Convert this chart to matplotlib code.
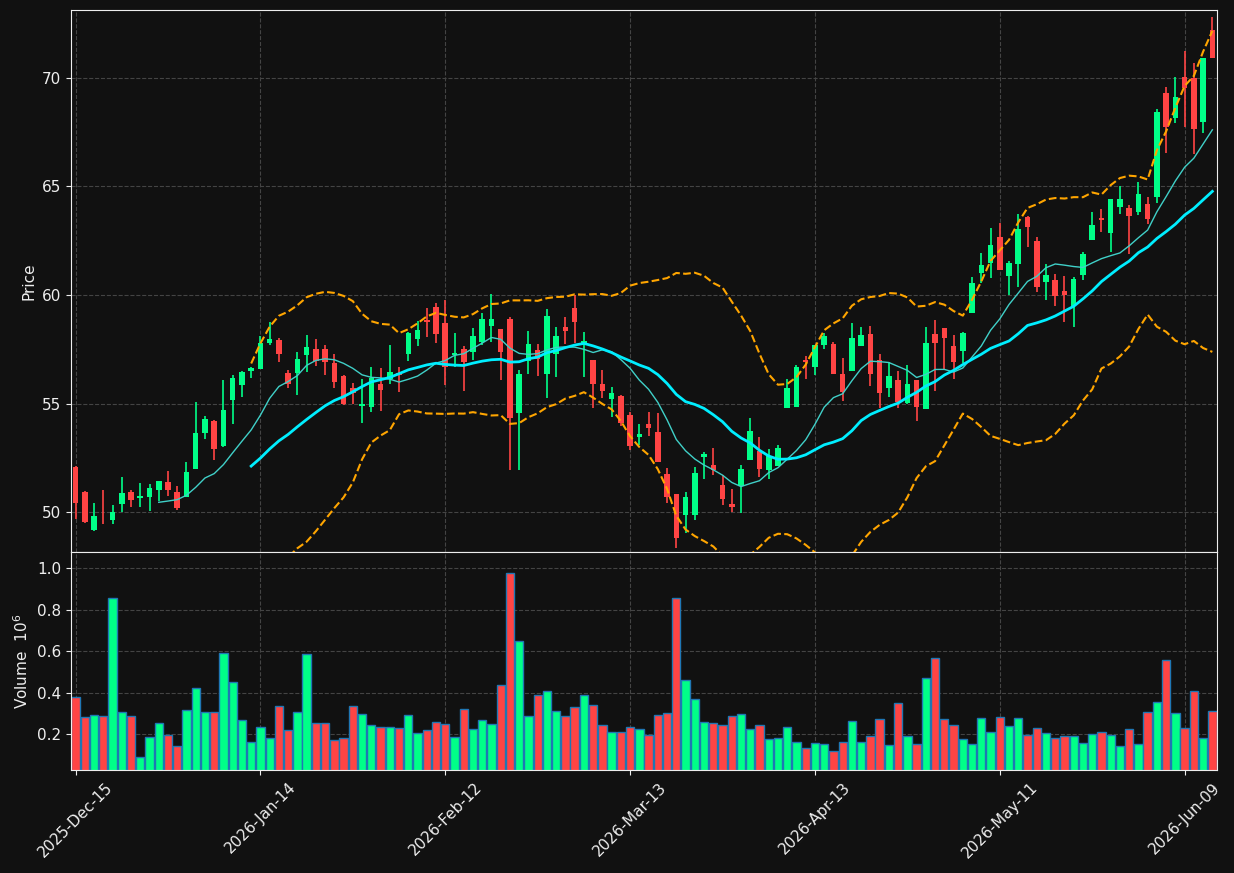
import numpy as np
import pandas as pd
from matplotlib import pyplot as plt

# OHLC (one candle per trading day)
opens = [52.06, 50.92, 49.18, 50.02, 49.65, 50.38, 50.92, 50.66, 50.69, 51.01,
         51.38, 50.92, 50.71, 52.00, 53.64, 54.18, 53.06, 55.16, 55.85, 56.51,
         56.59, 57.80, 57.93, 56.41, 56.42, 57.25, 57.51, 57.51, 56.87, 56.27,
         55.73, 54.90, 54.82, 55.90, 56.13, 56.39, 57.30, 57.97, 58.85, 59.43,
         58.70, 57.24, 57.50, 57.39, 57.85, 58.59, 58.42, 58.88, 54.58, 56.97,
         57.47, 56.36, 57.28, 58.53, 59.40, 57.70, 57.00, 55.90, 55.21, 55.35,
         54.47, 53.47, 54.06, 53.69, 51.75, 50.83, 49.86, 49.86, 52.55, 52.17,
         51.24, 50.37, 51.20, 52.40, 52.81, 51.94, 52.12, 54.81, 54.86, 57.00,
         56.70, 57.70, 57.74, 56.36, 56.50, 57.65, 58.20, 57.00, 55.73, 56.08,
         55.01, 56.08, 54.76, 58.20, 58.47, 57.65, 57.43, 59.18, 61.00, 61.49,
         62.69, 60.88, 61.43, 63.61, 62.50, 60.61, 60.69, 60.20, 59.49, 60.92,
         62.53, 63.54, 62.85, 64.04, 64.00, 63.81, 64.19, 64.53, 69.29, 68.17,
         70.03, 69.99, 67.99, 72.21]
highs = [52.10, 50.95, 50.40, 51.01, 50.31, 51.63, 51.01, 51.32, 51.28, 51.45,
         51.89, 51.20, 52.29, 55.08, 54.42, 54.25, 56.08, 56.30, 56.50, 56.70,
         58.09, 58.74, 58.00, 56.54, 57.39, 58.16, 57.96, 57.70, 57.28, 56.30,
         55.93, 56.12, 56.67, 56.62, 57.68, 56.70, 58.31, 58.82, 59.41, 59.64,
         59.77, 58.24, 57.65, 58.47, 59.16, 60.03, 58.45, 59.00, 56.54, 58.34,
         57.74, 59.34, 58.51, 58.97, 60.00, 58.29, 57.02, 56.54, 55.75, 55.38,
         54.62, 54.04, 54.62, 54.58, 52.01, 50.85, 50.94, 52.09, 52.78, 52.94,
         51.71, 51.05, 52.17, 54.32, 53.47, 52.89, 53.09, 56.12, 56.77, 57.19,
         57.70, 58.24, 57.85, 57.08, 58.72, 58.51, 58.57, 57.28, 56.90, 56.50,
         56.77, 56.10, 58.54, 58.85, 58.50, 58.16, 58.31, 60.82, 61.92, 63.07,
         63.30, 61.58, 63.73, 63.63, 62.66, 61.41, 60.97, 60.88, 60.82, 62.00,
         63.84, 63.95, 64.41, 65.00, 64.15, 65.22, 64.53, 68.56, 69.60, 70.03,
         71.26, 70.71, 70.94, 72.82]
lows = [49.66, 49.48, 49.15, 49.43, 49.43, 50.01, 50.22, 50.25, 50.06, 50.51,
        50.75, 50.09, 50.70, 52.00, 53.35, 52.38, 53.00, 54.04, 55.31, 56.16,
        56.59, 57.70, 56.90, 55.73, 55.39, 56.44, 56.74, 56.31, 55.70, 54.95,
        54.98, 54.09, 54.59, 54.65, 55.88, 55.52, 56.95, 57.67, 58.08, 57.77,
        55.85, 56.70, 55.58, 57.00, 57.70, 57.82, 56.08, 51.95, 51.94, 56.35,
        56.28, 55.27, 56.24, 57.74, 57.77, 56.21, 54.78, 55.24, 54.36, 53.96,
        52.86, 53.09, 53.50, 52.30, 50.40, 48.33, 49.02, 49.63, 51.51, 51.71,
        50.32, 50.01, 49.94, 52.38, 51.63, 51.51, 52.10, 54.80, 54.85, 56.12,
        56.31, 57.50, 56.36, 55.13, 56.50, 57.65, 55.82, 54.78, 55.31, 54.78,
        55.00, 54.19, 54.75, 55.56, 56.54, 56.12, 56.85, 59.17, 60.57, 60.77,
        61.15, 60.00, 60.38, 62.23, 60.16, 59.79, 59.49, 58.77, 58.51, 60.69,
        62.52, 62.92, 62.00, 63.73, 61.89, 63.69, 63.27, 64.23, 66.56, 67.91,
        67.76, 66.50, 67.45, 70.94]
closes = [50.43, 49.55, 49.82, 49.98, 50.00, 50.88, 50.55, 50.74, 51.12, 51.43,
          51.01, 50.20, 51.84, 53.64, 54.29, 52.90, 54.70, 56.18, 56.45, 56.64,
          57.80, 57.97, 57.30, 55.91, 57.05, 57.60, 56.97, 56.93, 56.00, 54.98,
          55.50, 54.98, 56.16, 55.64, 56.44, 56.31, 58.24, 58.39, 58.77, 58.20,
          56.70, 57.34, 56.93, 58.11, 58.88, 58.88, 57.39, 54.32, 56.36, 57.74,
          57.05, 59.03, 58.11, 58.34, 58.77, 57.88, 55.91, 55.56, 55.47, 54.12,
          53.06, 53.58, 53.88, 52.32, 50.71, 48.82, 50.71, 51.78, 52.67, 51.94,
          50.60, 50.22, 51.97, 53.73, 52.00, 52.58, 52.95, 55.70, 56.67, 56.90,
          57.70, 58.13, 56.36, 55.52, 58.00, 58.16, 56.36, 55.50, 56.27, 55.09,
          55.90, 54.85, 57.77, 57.80, 58.03, 56.93, 58.24, 60.54, 61.38, 62.30,
          61.15, 61.49, 63.04, 63.15, 60.38, 60.92, 59.95, 60.00, 60.74, 61.89,
          63.23, 63.46, 64.41, 64.41, 63.65, 64.65, 63.50, 68.42, 67.73, 69.11,
          69.53, 67.64, 70.94, 70.94]
# volume in millions
volumes = [0.377, 0.280, 0.290, 0.285, 0.855, 0.305, 0.285, 0.087, 0.184, 0.251,
           0.194, 0.140, 0.314, 0.420, 0.305, 0.305, 0.590, 0.449, 0.266, 0.160,
           0.232, 0.179, 0.334, 0.218, 0.305, 0.585, 0.251, 0.251, 0.169, 0.179,
           0.334, 0.295, 0.242, 0.232, 0.232, 0.227, 0.290, 0.203, 0.218, 0.256,
           0.247, 0.184, 0.319, 0.222, 0.266, 0.247, 0.435, 0.976, 0.647, 0.285,
           0.387, 0.406, 0.309, 0.285, 0.329, 0.387, 0.338, 0.242, 0.208, 0.208,
           0.232, 0.222, 0.194, 0.290, 0.300, 0.855, 0.459, 0.367, 0.256, 0.251,
           0.242, 0.285, 0.295, 0.222, 0.242, 0.174, 0.179, 0.232, 0.160, 0.131,
           0.155, 0.150, 0.116, 0.160, 0.261, 0.160, 0.189, 0.271, 0.145, 0.348,
           0.189, 0.150, 0.469, 0.565, 0.271, 0.242, 0.174, 0.150, 0.276, 0.208,
           0.280, 0.237, 0.276, 0.194, 0.227, 0.203, 0.179, 0.189, 0.189, 0.155,
           0.198, 0.208, 0.194, 0.140, 0.222, 0.150, 0.305, 0.353, 0.556, 0.300,
           0.227, 0.406, 0.179, 0.309]

tickPositions = [0, 20, 40, 60, 80, 100, 120]
tickLabels = ['2025-Dec-15', '2026-Jan-14', '2026-Feb-12', '2026-Mar-13',
              '2026-Apr-13', '2026-May-11', '2026-Jun-09']

bg = '#111111'
upColor = '#00ff88'
downColor = '#ff4444'
fg = '#eeeeee'

x = np.arange(len(closes))
o = np.array(opens)
c = np.array(closes)
close = pd.Series(closes)
ma10 = close.rolling(10).mean()
ma20 = close.rolling(20).mean()
sd20 = close.rolling(20).std()
upper = ma20 + 2 * sd20
lower = ma20 - 2 * sd20

colors = [upColor if cc >= oo else downColor for oo, cc in zip(opens, closes)]

fig = plt.figure(figsize=(12.34, 8.73), dpi=100, facecolor=bg)
ax1 = fig.add_axes([0.0575, 0.3677, 0.9287, 0.6208])
ax2 = fig.add_axes([0.0575, 0.118, 0.9287, 0.2497], sharex=ax1)

for ax in (ax1, ax2):
    ax.set_facecolor(bg)
    for s in ax.spines.values():
        s.set_color(fg)
    ax.tick_params(colors=fg, labelsize=11)
    ax.grid(True, color='#444444', linestyle='--', linewidth=0.8)
    ax.set_axisbelow(True)

# candles
ax1.vlines(x, lows, highs, colors=colors, linewidth=1.2, zorder=2)
bodyBottom = np.minimum(o, c)
bodyHeight = np.maximum(np.abs(c - o), 0.04)
ax1.bar(x, bodyHeight, bottom=bodyBottom, width=0.6, color=colors, zorder=3)

ax1.plot(x, ma10, color='#40d0c8', linewidth=1, zorder=4)
ax1.plot(x, ma20, color='#00eeff', linewidth=2, zorder=4)
ax1.plot(x, upper, color='orange', linestyle='--', linewidth=1.5, zorder=4)
ax1.plot(x, lower, color='orange', linestyle='--', linewidth=1.5, zorder=4)

ax1.set_ylim(48.16, 73.13)
ax1.set_ylabel('Price', color=fg, fontsize=11)
ax1.tick_params(axis='x', labelbottom=False)

ax2.bar(x, volumes, width=0.9, color=colors, edgecolor='#1f77b4', linewidth=1)
ax2.set_ylim(0.026, 1.079)
ax2.set_yticks([0.2, 0.4, 0.6, 0.8, 1.0])
ax2.set_ylabel(r'Volume  $10^6$', color=fg, fontsize=11)

ax2.set_xlim(-0.5, len(closes) - 0.5)
ax2.set_xticks(tickPositions)
ax2.set_xticklabels(tickLabels, rotation=45)

fig.savefig('out.png', dpi=100, facecolor=bg)
